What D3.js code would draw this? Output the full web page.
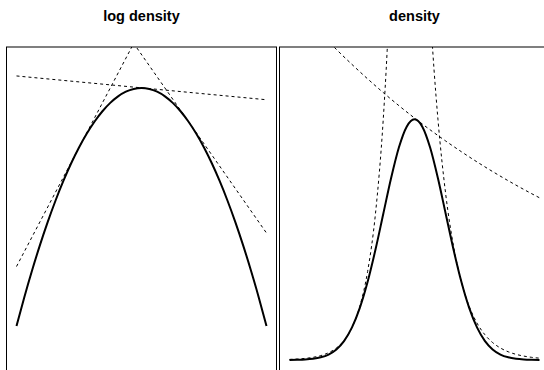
<!DOCTYPE html>
<html>
<head>
<meta charset="utf-8">
<script src="https://cdn.jsdelivr.net/npm/d3@7"></script>
<style>
html,body{margin:0;padding:0;background:#fff;}
svg{display:block;}
</style>
</head>
<body>
<svg id="chart" width="544" height="370"></svg>
<script>
// ---- data ----
const panelTitles = ["log density", "density"];
const xGrid = [-4,-3.75,-3.5,-3.25,-3,-2.75,-2.5,-2.25,-2,-1.75,-1.5,-1.25,-1,-0.75,-0.5,-0.25,0,
               0.25,0.5,0.75,1,1.25,1.5,1.75,2,2.25,2.5,2.75,3,3.25,3.5,3.75,4];
const logDensity = [-8,-7.031,-6.125,-5.281,-4.5,-3.781,-3.125,-2.531,-2,-1.531,-1.125,-0.781,-0.5,-0.281,-0.125,-0.031,0,
                    -0.031,-0.125,-0.281,-0.5,-0.781,-1.125,-1.531,-2,-2.531,-3.125,-3.781,-4.5,-5.281,-6.125,-7.031,-8];
const density = [0.0003,0.0009,0.0022,0.0051,0.0111,0.0228,0.0439,0.0796,0.1353,0.2163,0.3247,0.4578,0.6065,0.7548,0.8825,0.9692,1,
                 0.9692,0.8825,0.7548,0.6065,0.4578,0.3247,0.2163,0.1353,0.0796,0.0439,0.0228,0.0111,0.0051,0.0022,0.0009,0.0003];

// tangent lines of the log density (endpoints at x = -4 and x = 4)
const tangentX = [-4, 4];
const tangentLeftY = [-6, 10];
const tangentMidY = [0.405, -0.395];
const tangentRightY = [7.125, -4.875];

// exponentiated tangents (density panel)
const hullLeftX = [-4,-3.75,-3.5,-3.25,-3,-2.75,-2.5,-2.25,-2,-1.75,-1.5,-1.25,-1,-0.875,-0.75];
const hullLeftY = [0.0025,0.0041,0.0067,0.0111,0.0183,0.0302,0.0498,0.0821,0.1353,0.2231,0.3679,0.6065,1,1.284,1.6487];
const hullMidX = [-4,-3.5,-3,-2.5,-2,-1.5,-1,-0.5,0,0.5,1,1.5,2,2.5,3,3.5,4];
const hullMidY = [1.499,1.426,1.357,1.290,1.2275,1.1677,1.1107,1.0565,1.005,0.956,0.9094,0.8651,0.8228,0.7827,0.7445,0.7082,0.6737];
const hullRightX = [0.5,0.625,0.75,1,1.25,1.5,1.75,2,2.25,2.5,2.75,3,3.25,3.5,3.75,4];
const hullRightY = [1.455,1.206,1,0.6873,0.4724,0.3247,0.2231,0.1534,0.1054,0.0724,0.0498,0.0342,0.0235,0.0162,0.0111,0.0076];

// ---- drawing ----
const svg = d3.select("#chart");
const boxTop = 47, boxBottom = 372;

const panels = [
  { title: panelTitles[0], left: 6.5, right: 276.5, yDomain: [-9.546, 1.378],
    solid: [xGrid, logDensity],
    dashed: [[tangentX, tangentLeftY], [tangentX, tangentMidY], [tangentX, tangentRightY]] },
  { title: panelTitles[1], left: 279.5, right: 549.5, yDomain: [-0.0498, 1.3],
    solid: [xGrid, density],
    dashed: [[hullLeftX, hullLeftY], [hullMidX, hullMidY], [hullRightX, hullRightY]] }
];

panels.forEach((p, i) => {
  const x = d3.scaleLinear().domain([-4.32, 4.32]).range([p.left, p.right]);
  const y = d3.scaleLinear().domain(p.yDomain).range([boxBottom, boxTop]);
  const clipId = "clip" + i;
  svg.append("clipPath").attr("id", clipId)
    .append("rect").attr("x", p.left).attr("y", boxTop)
    .attr("width", p.right - p.left).attr("height", boxBottom - boxTop);
  const g = svg.append("g").attr("clip-path", `url(#${clipId})`);
  const lineGen = d3.line().x(d => x(d[0])).y(d => y(d[1])).curve(d3.curveMonotoneX);
  const zipped = (xs, ys) => xs.map((v, k) => [v, ys[k]]);

  p.dashed.forEach(([xs, ys]) => {
    g.append("path").datum(zipped(xs, ys)).attr("d", lineGen)
      .attr("fill", "none").attr("stroke", "#000").attr("stroke-width", 1)
      .attr("stroke-dasharray", "3,3");
  });
  g.append("path").datum(zipped(p.solid[0], p.solid[1])).attr("d", lineGen)
    .attr("fill", "none").attr("stroke", "#000").attr("stroke-width", 2);

  svg.append("rect").attr("x", p.left).attr("y", boxTop)
    .attr("width", p.right - p.left).attr("height", boxBottom - boxTop)
    .attr("fill", "none").attr("stroke", "#000").attr("stroke-width", 1);

  svg.append("text").attr("x", x(0)).attr("y", 20.7)
    .attr("text-anchor", "middle")
    .attr("font-family", "'Liberation Sans', Arial, sans-serif")
    .attr("font-weight", "bold").attr("font-size", "14.5px")
    .attr("fill", "#000").text(p.title);
});
</script>
</body>
</html>
